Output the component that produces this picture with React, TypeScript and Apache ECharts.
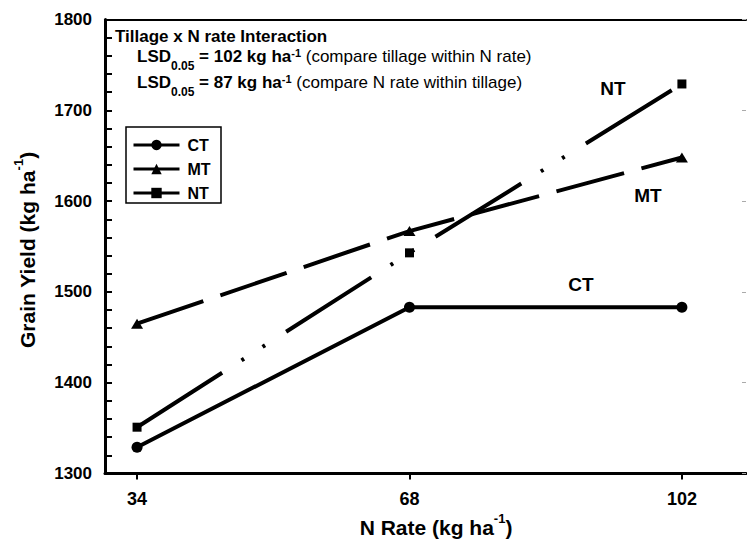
import { useEffect, useRef } from "react";
import * as echarts from "echarts";

const nRates = [34, 68, 102];
const ctYield = [1329, 1483, 1483];
const mtYield = [1465, 1567, 1648];
const ntYield = [1351, 1543, 1729];
const seriesNames = ["CT", "MT", "NT"];
const yMin = 1300;
const yMax = 1800;
const yStep = 100;
const xMin = 30;
const xMax = 110;

const annotationTitle = "Tillage x N rate Interaction";
const lsdValues = ["102", "87"];
const lsdNotes = ["(compare tillage within N rate)", "(compare N rate within tillage)"];

const FONT = '"Liberation Sans", Arial, Helvetica, sans-serif';
const INK = "#000";

function pts(ys: number[]) {
  return nRates.map((x, i) => [x, ys[i]]);
}

type Seg = { t: string; font: string; dy: number; space?: string };

function buildLine(segs: Seg[], x0: number, y: number, measure: (t: string, f: string) => number) {
  const out: any[] = [];
  let x = x0;
  segs.forEach((s) => {
    if (s.space) x += measure(" ", s.space);
    out.push({
      type: "text",
      x,
      y: y + s.dy,
      style: { text: s.t, font: s.font, fill: INK, align: "left", verticalAlign: "middle" },
    });
    x += measure(s.t, s.font);
  });
  return out;
}

export default function App() {
  const ref = useRef<HTMLDivElement>(null);
  useEffect(() => {
    if (!ref.current) return;
    const ctx = document.createElement("canvas").getContext("2d")!;
    const measure = (t: string, f: string) => {
      ctx.font = f;
      return ctx.measureText(t).width;
    };
    const B17 = `bold 17px ${FONT}`;
    const N17 = `17px ${FONT}`;
    const B12 = `bold 12px ${FONT}`;
    const B11 = `bold 11px ${FONT}`;
    const lsdLines: any[] = [];
    const lineY = [56.5, 82];
    lsdValues.forEach((v, i) => {
      lsdLines.push(
        ...buildLine(
          [
            { t: "LSD", font: B17, dy: 0 },
            { t: "0.05", font: B12, dy: 9.5 },
            { t: `= ${v} kg ha`, font: B17, dy: 0, space: B17 },
            { t: "-1", font: B11, dy: -3.5 },
            { t: lsdNotes[i], font: N17, dy: 0, space: N17 },
          ],
          137,
          lineY[i],
          measure
        )
      );
    });

    const chart = echarts.init(ref.current, undefined, { renderer: "svg" });
    const option: any = {
      animation: false,
      backgroundColor: "#fff",
      grid: { left: 105, top: 19.5, right: 1, bottom: 74.5, containLabel: false },
      xAxis: [
        {
          type: "value",
          min: xMin,
          max: xMax,
          axisLine: { show: true, onZero: false, lineStyle: { color: INK, width: 3 } },
          axisTick: {
            show: true,
            inside: false,
            length: 6,
            customValues: nRates,
            lineStyle: { color: INK, width: 2 },
          },
          axisLabel: {
            customValues: nRates,
            formatter: (v: number) => String(v),
            fontSize: 18,
            fontWeight: "bold",
            fontFamily: FONT,
            color: INK,
            margin: 16,
          },
          splitLine: { show: false },
        },
        {
          type: "value",
          position: "top",
          min: xMin,
          max: xMax,
          axisLine: { show: true, onZero: false, lineStyle: { color: INK, width: 2 } },
          axisTick: { show: false },
          axisLabel: { show: false },
          splitLine: { show: false },
        },
      ],
      yAxis: [
        {
          type: "value",
          min: yMin,
          max: yMax,
          interval: yStep,
          axisLine: { show: true, onZero: false, lineStyle: { color: INK, width: 3 } },
          axisTick: { show: true, inside: true, length: 7, lineStyle: { color: INK, width: 2 } },
          minorTick: { show: true, splitNumber: 5, length: 7, lineStyle: { color: INK, width: 2 } },
          axisLabel: {
            formatter: (v: number) => String(v),
            fontSize: 17,
            fontWeight: "bold",
            fontFamily: FONT,
            color: INK,
            margin: 13,
          },
          splitLine: { show: false },
        },
        {
          type: "value",
          position: "right",
          min: yMin,
          max: yMax,
          interval: yStep,
          axisLine: { show: false },
          axisTick: { show: true, inside: true, length: 4, lineStyle: { color: "#aaa", width: 1 } },
          axisLabel: { show: false },
          splitLine: { show: false },
        },
      ],
      legend: {
        orient: "vertical",
        left: 132,
        top: 137,
        padding: 0,
        itemWidth: 46,
        itemHeight: 13,
        itemGap: 8,
        data: seriesNames,
        lineStyle: { type: "solid", width: 3 },
        textStyle: {
          fontSize: 16,
          fontWeight: "bold",
          fontFamily: FONT,
          color: INK,
          lineHeight: 13,
          padding: [0, 0, 0, 3],
        },
      },
      series: [
        {
          name: seriesNames[0],
          type: "line",
          data: pts(ctYield),
          symbol: "circle",
          symbolSize: 11,
          itemStyle: { color: INK },
          lineStyle: { color: INK, width: 4 },
        },
        {
          name: seriesNames[1],
          type: "line",
          data: pts(mtYield),
          symbol: "triangle",
          symbolSize: [12, 10],
          itemStyle: { color: INK },
          lineStyle: { color: INK, width: 4, type: [70, 18] },
        },
        {
          name: seriesNames[2],
          type: "line",
          data: pts(ntYield),
          symbol: "rect",
          symbolSize: 9,
          itemStyle: { color: INK },
          lineStyle: { color: INK, width: 4, type: [101, 23, 3, 22, 3, 25] },
        },
      ],
      graphic: [
        {
          type: "rect",
          shape: { x: 126, y: 127, width: 95, height: 76 },
          style: { fill: "none", stroke: INK, lineWidth: 1.5 },
          z: 1,
        },
        {
          type: "text",
          x: 115,
          y: 36.5,
          style: {
            text: annotationTitle,
            font: B17,
            fill: INK,
            align: "left",
            verticalAlign: "middle",
          },
        },
        ...lsdLines,
        {
          type: "text",
          x: 613,
          y: 88,
          style: { text: seriesNames[2], font: `bold 19px ${FONT}`, fill: INK, align: "center", verticalAlign: "middle" },
        },
        {
          type: "text",
          x: 648,
          y: 195,
          style: { text: seriesNames[1], font: `bold 19px ${FONT}`, fill: INK, align: "center", verticalAlign: "middle" },
        },
        {
          type: "text",
          x: 581,
          y: 284,
          style: { text: seriesNames[0], font: `bold 19px ${FONT}`, fill: INK, align: "center", verticalAlign: "middle" },
        },
        {
          type: "text",
          x: 436,
          y: 527,
          style: {
            text: "{t|N Rate (kg ha}{sup|-1}{t|)}",
            align: "center",
            verticalAlign: "middle",
            fill: INK,
            rich: {
              t: { fontSize: 21, fontWeight: "bold", fontFamily: FONT, lineHeight: 30, fill: INK },
              sup: { fontSize: 13, fontWeight: "bold", fontFamily: FONT, lineHeight: 22, verticalAlign: "top", fill: INK },
            },
          },
        },
        {
          type: "text",
          x: 27,
          y: 250,
          rotation: Math.PI / 2,
          style: {
            text: "{t|Grain Yield (kg ha}{sup|-1}{t|)}",
            align: "center",
            verticalAlign: "middle",
            fill: INK,
            rich: {
              t: { fontSize: 21, fontWeight: "bold", fontFamily: FONT, lineHeight: 30, fill: INK },
              sup: { fontSize: 13, fontWeight: "bold", fontFamily: FONT, lineHeight: 22, verticalAlign: "top", fill: INK },
            },
          },
        },
      ],
    };
    chart.setOption(option);
    return () => chart.dispose();
  }, []);
  return (
    <div
      ref={ref}
      style={{ position: "fixed", left: 0, top: 0, width: 747, height: 548, background: "#fff" }}
    />
  );
}
